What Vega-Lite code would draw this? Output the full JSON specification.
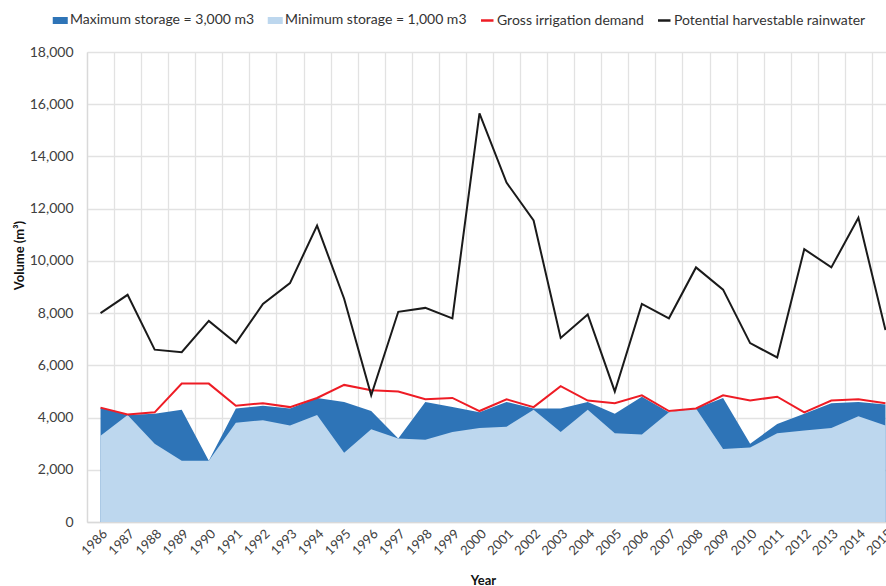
{
  "$schema": "https://vega.github.io/schema/vega-lite/v6.json",
  "autosize": {"type": "none"},
  "padding": {"left": 87, "top": 52, "right": 2, "bottom": 64},
  "width": 797,
  "height": 470,
  "background": "white",
  "config": {
    "view": {"stroke": null},
    "font": "Lato",
    "axis": {"labelFont": "Lato", "titleFont": "Lato", "labelColor": "#404040", "titleColor": "#111111"},
    "legend": {"labelFont": "Lato"}
  },
  "data": {
    "values": [
      {"year": "1986", "max": 4380, "min": 3300, "demand": 4380, "rain": 8000},
      {"year": "1987", "max": 4100, "min": 4100, "demand": 4120, "rain": 8700},
      {"year": "1988", "max": 4150, "min": 3000, "demand": 4200, "rain": 6600},
      {"year": "1989", "max": 4300, "min": 2350, "demand": 5300, "rain": 6500},
      {"year": "1990", "max": 2350, "min": 2350, "demand": 5300, "rain": 7700},
      {"year": "1991", "max": 4350, "min": 3800, "demand": 4450, "rain": 6850},
      {"year": "1992", "max": 4450, "min": 3900, "demand": 4550, "rain": 8350},
      {"year": "1993", "max": 4350, "min": 3700, "demand": 4400, "rain": 9150},
      {"year": "1994", "max": 4750, "min": 4100, "demand": 4750, "rain": 11350},
      {"year": "1995", "max": 4600, "min": 2650, "demand": 5250, "rain": 8550},
      {"year": "1996", "max": 4250, "min": 3550, "demand": 5050, "rain": 4850},
      {"year": "1997", "max": 3200, "min": 3200, "demand": 5000, "rain": 8050},
      {"year": "1998", "max": 4600, "min": 3150, "demand": 4700, "rain": 8200},
      {"year": "1999", "max": 4400, "min": 3450, "demand": 4750, "rain": 7800},
      {"year": "2000", "max": 4200, "min": 3600, "demand": 4250, "rain": 15650},
      {"year": "2001", "max": 4600, "min": 3650, "demand": 4700, "rain": 13000},
      {"year": "2002", "max": 4350, "min": 4300, "demand": 4400, "rain": 11550},
      {"year": "2003", "max": 4350, "min": 3450, "demand": 5200, "rain": 7050},
      {"year": "2004", "max": 4600, "min": 4300, "demand": 4650, "rain": 7950},
      {"year": "2005", "max": 4150, "min": 3400, "demand": 4550, "rain": 5000},
      {"year": "2006", "max": 4800, "min": 3350, "demand": 4850, "rain": 8350},
      {"year": "2007", "max": 4200, "min": 4200, "demand": 4250, "rain": 7800},
      {"year": "2008", "max": 4350, "min": 4350, "demand": 4350, "rain": 9750},
      {"year": "2009", "max": 4750, "min": 2800, "demand": 4850, "rain": 8900},
      {"year": "2010", "max": 3000, "min": 2850, "demand": 4650, "rain": 6850},
      {"year": "2011", "max": 3750, "min": 3400, "demand": 4800, "rain": 6300},
      {"year": "2012", "max": 4150, "min": 3500, "demand": 4200, "rain": 10450},
      {"year": "2013", "max": 4550, "min": 3600, "demand": 4650, "rain": 9750},
      {"year": "2014", "max": 4600, "min": 4050, "demand": 4700, "rain": 11650},
      {"year": "2015", "max": 4500, "min": 3700, "demand": 4550, "rain": 7350}
    ]
  },
  "encoding": {
    "x": {
      "field": "year",
      "type": "ordinal",
      "bandPosition": 0.5,
      "scale": {"type": "band", "paddingInner": 0, "paddingOuter": 0, "range": [0, 812]},
      "axis": {
        "title": "Year",
        "titleFontWeight": "bold",
        "titleFontSize": 13,
        "titleX": 396,
        "titleY": 52,
        "labelAngle": -45,
        "labelFontSize": 13,
        "labelPadding": 5,
        "ticks": false,
        "tickBand": "extent",
        "grid": true,
        "gridColor": "#e2e2e2",
        "gridWidth": 1.3,
        "domainColor": "#d9d9d9",
        "domainWidth": 1.3
      }
    }
  },
  "layer": [
    {
      "mark": {"type": "area"},
      "encoding": {
        "y": {
          "field": "max",
          "type": "quantitative",
          "scale": {"domain": [0, 18000]},
          "axis": {
            "title": "Volume (m³)",
            "titleFontWeight": "bold",
            "titleFontSize": 13,
            "titleX": -68,
            "titleY": 203,
            "titleBaseline": "middle",
            "values": [0, 2000, 4000, 6000, 8000, 10000, 12000, 14000, 16000, 18000],
            "format": ",.0f",
            "formatType": "number",
            "labelFontSize": 14,
            "labelPadding": 14,
            "ticks": false,
            "grid": true,
            "gridColor": "#e2e2e2",
            "gridWidth": 1.3,
            "domainColor": "#d9d9d9",
            "domainWidth": 1.3
          }
        },
        "color": {
          "datum": "Maximum storage = 3,000 m3",
          "type": "nominal",
          "scale": {
            "domain": ["Maximum storage = 3,000 m3", "Minimum storage = 1,000 m3", "Gross irrigation demand", "Potential harvestable rainwater"],
            "range": ["#2e74b7", "#bdd7ee", "#ee1c25", "#1a1a1a"]
          },
          "legend": {
            "title": null,
            "orient": "none",
            "legendX": -47,
            "legendY": -46,
            "direction": "horizontal",
            "columns": 4,
            "labelFontSize": 14,
            "labelColor": "#333333",
            "labelLimit": 400,
            "labelOffset": 2,
            "columnPadding": -4,
            "symbolSize": 625,
            "encode": {
              "symbols": {
                "update": {
                  "shape": {"signal": "(datum.value === 'Gross irrigation demand' || datum.value === 'Potential harvestable rainwater') ? 'M0,0L1,0' : 'M0,-0.18L1,-0.18L1,0.18L0,0.18Z'"},
                  "fill": {"signal": "(datum.value === 'Gross irrigation demand' || datum.value === 'Potential harvestable rainwater') ? 'transparent' : scale('color', datum.value)"},
                  "stroke": {"signal": "(datum.value === 'Gross irrigation demand' || datum.value === 'Potential harvestable rainwater') ? scale('color', datum.value) : 'transparent'"},
                  "strokeWidth": {"value": 2.5},
                  "opacity": {"value": 1}
                }
              }
            }
          }
        }
      }
    },
    {
      "mark": {"type": "area"},
      "encoding": {
        "y": {"field": "min", "type": "quantitative"},
        "color": {"datum": "Minimum storage = 1,000 m3", "type": "nominal"}
      }
    },
    {
      "mark": {"type": "line", "strokeWidth": 2},
      "encoding": {
        "y": {"field": "demand", "type": "quantitative"},
        "color": {"datum": "Gross irrigation demand", "type": "nominal"}
      }
    },
    {
      "mark": {"type": "line", "strokeWidth": 2},
      "encoding": {
        "y": {"field": "rain", "type": "quantitative"},
        "color": {"datum": "Potential harvestable rainwater", "type": "nominal"}
      }
    }
  ]
}
